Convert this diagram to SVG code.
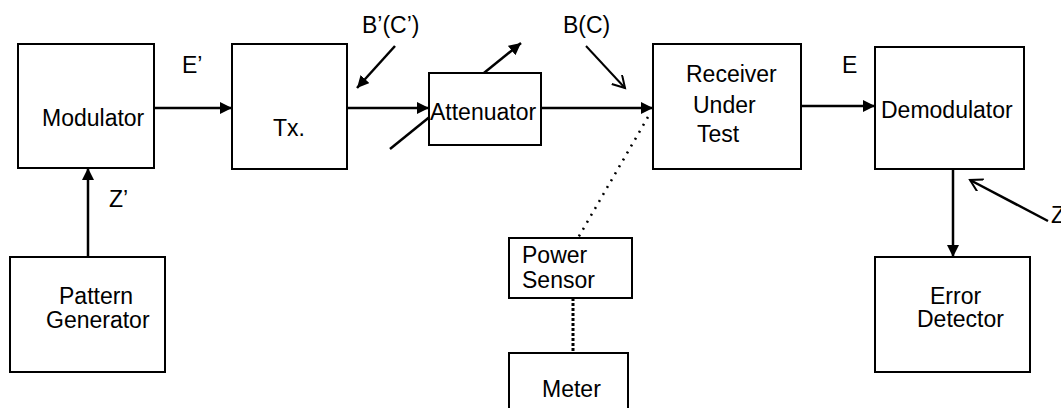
<svg xmlns="http://www.w3.org/2000/svg" width="1061" height="408" viewBox="0 0 1061 408">
<style>
.box{fill:#fff;stroke:#000;stroke-width:2}
.t{font-family:"Liberation Sans",Arial,sans-serif;font-size:23px;fill:#000}
.c{stroke:#000;stroke-width:2.5;fill:none}
.a{marker-end:url(#fa)}
.o{marker-end:url(#oa)}
</style>
<defs>
<marker id="fa" markerUnits="userSpaceOnUse" markerWidth="14" markerHeight="14" refX="12" refY="6" orient="auto">
<path d="M0,0 L12,6 L0,12 z" fill="#000"/>
</marker>
<marker id="oa" markerUnits="userSpaceOnUse" markerWidth="16" markerHeight="16" refX="12" refY="7" orient="auto">
<path d="M0,0 L12,7 L0,14" fill="none" stroke="#000" stroke-width="2"/>
</marker>
</defs>
<g id="connectors">
<line class="c a" x1="154" y1="108" x2="232" y2="108"/>
<line class="c a" x1="347" y1="108" x2="429" y2="108"/>
<line class="c a" x1="541" y1="108" x2="653" y2="108"/>
<line class="c a" x1="797" y1="106" x2="875" y2="106"/>
<line class="c a" x1="953" y1="161" x2="953" y2="257"/>
<line class="c a" x1="88" y1="257" x2="88" y2="168"/>
<line class="c a" x1="390" y1="149" x2="521" y2="43"/>
<line class="c a" x1="395" y1="46" x2="357" y2="88"/>
<line class="c o" x1="586" y1="46" x2="625" y2="88" style="stroke-width:2"/>
<line class="c o" x1="1048" y1="221" x2="970" y2="180"/>
<line x1="648" y1="117" x2="578" y2="238" stroke="#000" stroke-width="2.5" stroke-dasharray="2 6"/>
<line x1="573" y1="298" x2="573" y2="353" stroke="#000" stroke-width="3" stroke-dasharray="3 2"/>
</g>
<g id="modulator"><rect class="box" x="18" y="44" width="136" height="124"/><text class="t" x="42" y="126">Modulator</text></g>
<g id="tx"><rect class="box" x="232" y="44" width="115" height="125"/><text class="t" x="273" y="136">Tx.</text></g>
<g id="attenuator"><rect class="box" x="429" y="73" width="112" height="72"/><text class="t" x="430" y="120">Attenuator</text></g>
<g id="receiver"><rect class="box" x="653" y="44" width="148" height="125"/><text class="t" x="686" y="82">Receiver</text><text class="t" x="693" y="113">Under</text><text class="t" x="697" y="142">Test</text></g>
<g id="demodulator"><rect class="box" x="875" y="47" width="149" height="122"/><text class="t" x="881" y="118">Demodulator</text></g>
<g id="pattern-generator"><rect class="box" x="10" y="257" width="155" height="115"/><text class="t" x="59" y="304">Pattern</text><text class="t" x="46" y="328">Generator</text></g>
<g id="error-detector"><rect class="box" x="875" y="257" width="155" height="115"/><text class="t" x="930" y="304">Error</text><text class="t" x="917" y="327">Detector</text></g>
<g id="power-sensor"><rect class="box" x="509" y="238" width="123" height="60"/><text class="t" x="522" y="263">Power</text><text class="t" x="522" y="288">Sensor</text></g>
<g id="meter"><rect class="box" x="509" y="353" width="119" height="60"/><text class="t" x="542" y="397">Meter</text></g>
<g id="labels">
<text class="t" x="182" y="73">E’</text>
<text class="t" x="362" y="33">B’(C’)</text>
<text class="t" x="563" y="33">B(C)</text>
<text class="t" x="842" y="73">E</text>
<text class="t" x="109" y="207">Z’</text>
<text class="t" x="1051" y="223">Z</text>
</g>
</svg>
